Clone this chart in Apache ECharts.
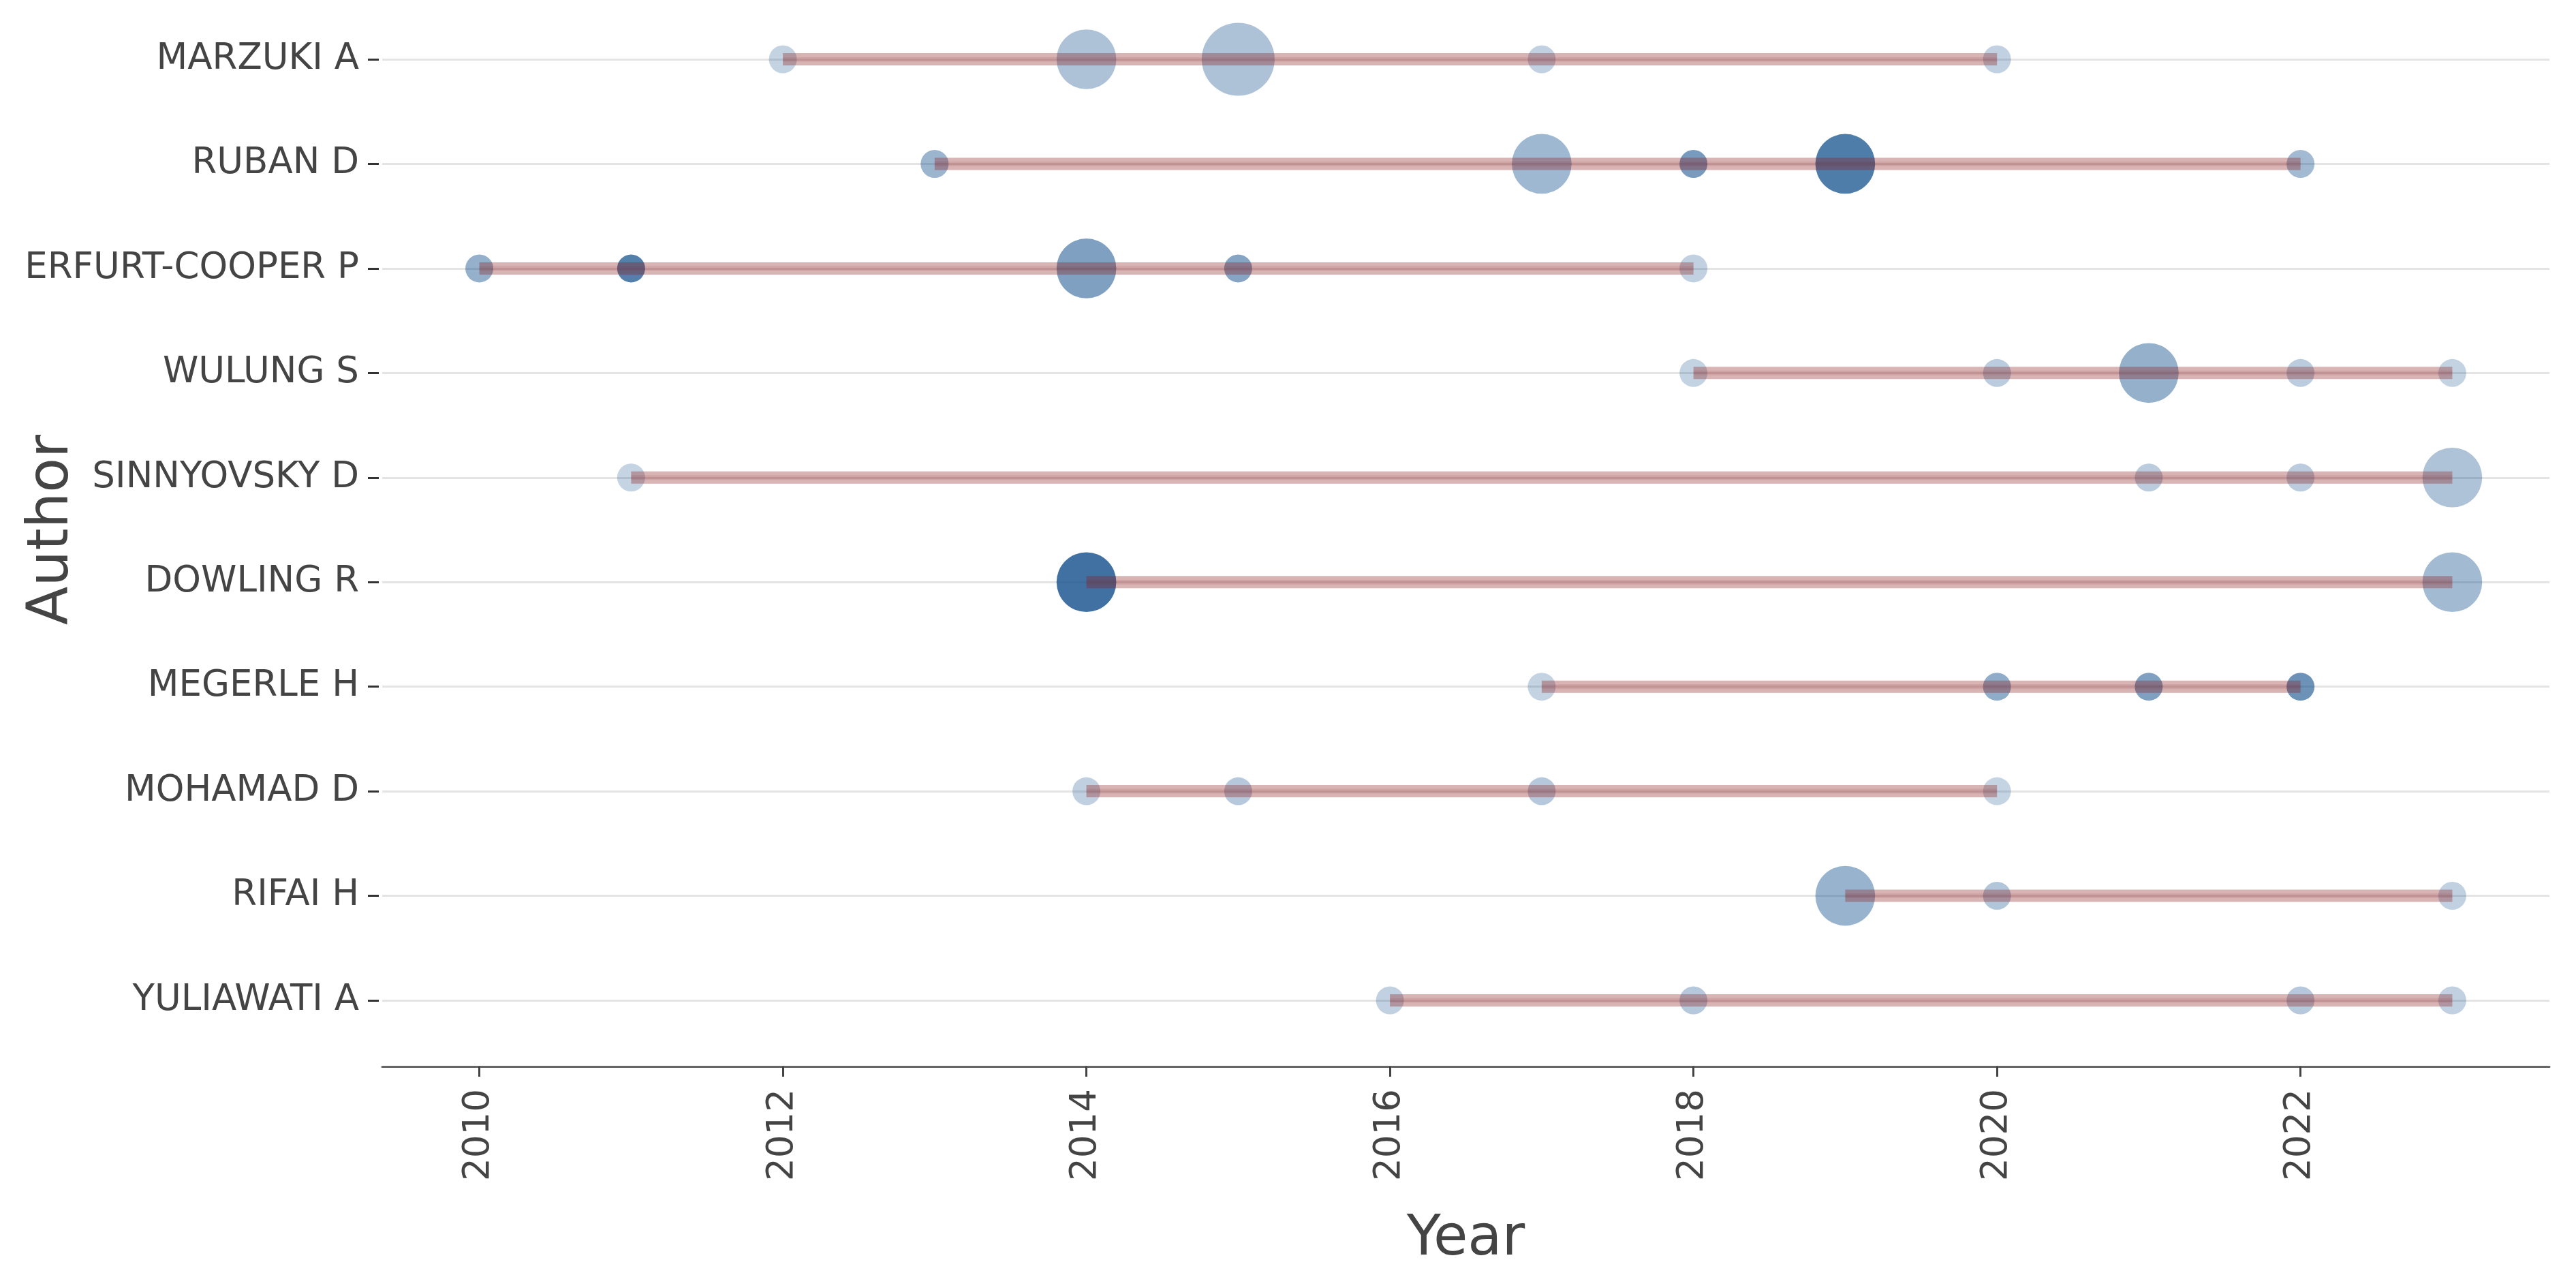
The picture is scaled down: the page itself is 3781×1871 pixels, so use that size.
<!DOCTYPE html>
<html><head><meta charset="utf-8">
<script src="https://cdn.jsdelivr.net/npm/echarts@6/dist/echarts.min.js"></script>
<style>html,body{margin:0;padding:0;background:#fff}#c{width:3781px;height:1871px}</style>
</head><body><div id="c"></div>
<script>
// ---- data ----
const authors = ['MARZUKI A','RUBAN D','ERFURT-COOPER P','WULUNG S','SINNYOVSKY D','DOWLING R','MEGERLE H','MOHAMAD D','RIFAI H','YULIAWATI A'];
const pubYears = [
  [2012,2014,2015,2017,2020],
  [2013,2017,2018,2019,2022],
  [2010,2011,2014,2015,2018],
  [2018,2020,2021,2022,2023],
  [2011,2021,2022,2023],
  [2014,2023],
  [2017,2020,2021,2022],
  [2014,2015,2017,2020],
  [2019,2020,2023],
  [2016,2018,2022,2023]
];
// number of articles per year (bubble size)
const pubFreq = [
  [1,2,3,1,1],
  [1,2,1,2,1],
  [1,1,2,1,1],
  [1,1,2,1,1],
  [1,1,1,2],
  [2,2],
  [1,1,1,1],
  [1,1,1,1],
  [2,1,1],
  [1,1,1,1]
];
// citations-per-year intensity (bubble opacity), relative 0..1
const pubTcpy = [
  [0.31,0.43,0.43,0.32,0.32],
  [0.52,0.50,0.71,0.92,0.48],
  [0.56,0.90,0.67,0.63,0.32],
  [0.31,0.36,0.56,0.36,0.31],
  [0.30,0.36,0.36,0.42],
  [1.00,0.48],
  [0.31,0.59,0.67,0.77],
  [0.33,0.38,0.38,0.30],
  [0.54,0.40,0.32],
  [0.32,0.38,0.38,0.32]
];
const xTicks = [2010,2012,2014,2016,2018,2020,2022];

// ---- build ----
const FONT = 'DejaVu Sans';
const maxFreq = 3;
function sizeOf(f){ return 41 + 66*Math.sqrt((f-1)/(maxFreq-1)); }

const points = [];
authors.forEach((a,i)=>{
  pubYears[i].forEach((y,j)=>{
    points.push({value:[y, i, pubFreq[i][j], pubTcpy[i][j]],
      itemStyle:{color:'rgba(16,78,139,'+pubTcpy[i][j]+')'}});
  });
});

const series = [{
  type:'scatter', data:points, z:2, silent:true,
  symbolSize:(v)=>sizeOf(v[2])
}];
authors.forEach((a,i)=>{
  const ys = pubYears[i];
  const seg = [[Math.min(...ys), i],[Math.max(...ys), i]];
  series.push({type:'line', data:seg, z:3, symbol:'none', silent:true,
    lineStyle:{width:18, color:'rgba(139,26,26,0.33)', cap:'butt'}});
  series.push({type:'line', data:seg, z:4, symbol:'none', silent:true,
    lineStyle:{width:7, color:'rgba(139,26,26,0.1)', cap:'butt'}});
});

const chart = echarts.init(document.getElementById('c'));
chart.setOption({
  animation:false,
  backgroundColor:'#fff',
  textStyle:{fontFamily:FONT},
  grid:{left:561, right:39, top:87, bottom:403, outerBoundsMode:'none', containLabel:false},
  xAxis:{
    type:'value', min:2009.36, max:2023.64, offset:97,
    axisLine:{show:true, lineStyle:{color:'#666', width:3}},
    axisTick:{show:true, customValues:xTicks, length:15, lineStyle:{color:'#444', width:3}},
    axisLabel:{customValues:xTicks, rotate:90, margin:33, fontSize:53, color:'#444', fontFamily:FONT,
      formatter:(v)=>String(v)},
    splitLine:{show:false},
    name:'Year', nameLocation:'middle', nameGap:214, nameMoveOverlap:false,
    nameTextStyle:{fontSize:82, color:'#444', fontFamily:FONT}
  },
  yAxis:{
    type:'category', data:authors, inverse:true, boundaryGap:false, offset:5,
    axisLine:{show:false},
    axisTick:{show:true, length:16, alignWithLabel:true, interval:0, lineStyle:{color:'#333', width:3}},
    axisLabel:{interval:0, margin:29, fontSize:53, color:'#444', fontFamily:FONT},
    splitLine:{show:true, interval:0, lineStyle:{color:'#e4e4e4', width:3}},
    name:'Author', nameLocation:'middle', nameGap:437, nameRotate:90, nameMoveOverlap:false,
    nameTextStyle:{fontSize:83, color:'#444', fontFamily:FONT}
  },
  series:series
});
</script></body></html>
